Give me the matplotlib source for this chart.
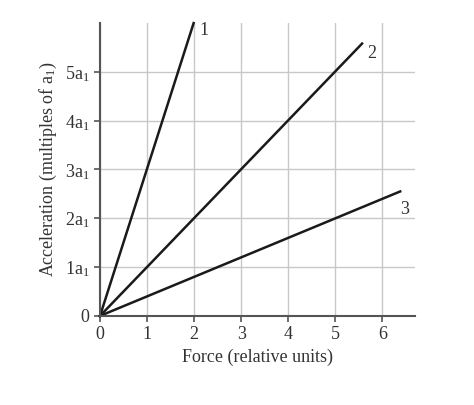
import matplotlib
matplotlib.use("Agg")
import matplotlib.pyplot as plt

plt.rcParams['font.family'] = ['Liberation Serif', 'DejaVu Serif']
plt.rcParams['mathtext.fontset'] = 'custom'
plt.rcParams['mathtext.rm'] = 'Liberation Serif'
plt.rcParams['mathtext.it'] = 'Liberation Serif'

line_names = ["1", "2", "3"]
end_force = [1.99, 5.57, 6.38]
end_accel = [6.0, 5.58, 2.55]
x_ticks = [0, 1, 2, 3, 4, 5, 6]
y_ticks = [0, 1, 2, 3, 4, 5]
y_labels = ["0", "1a$_1$", "2a$_1$", "3a$_1$", "4a$_1$", "5a$_1$"]
label_offsets = [(0.12, -0.15), (0.12, -0.2), (0.0, -0.38)]

fig = plt.figure(figsize=(4.74, 4.05), dpi=100)
ax = fig.add_axes([0.211, 0.220, 0.665, 0.723])
ax.set_xlim(0, 6.7)
ax.set_ylim(0, 6.0)
ax.set_xticks(x_ticks)
ax.set_yticks(y_ticks)
ax.set_yticklabels(y_labels)
ax.grid(True, color='#c8c8c8', linewidth=1)
ax.set_axisbelow(True)
for s in ['top', 'right']:
    ax.spines[s].set_visible(False)
for s in ['left', 'bottom']:
    ax.spines[s].set_color('#555555')
    ax.spines[s].set_linewidth(1.5)
ax.tick_params(direction='out', length=4, width=1.2, color='#555555', labelsize=13, labelcolor='#333333')
ax.tick_params(axis='y', labelsize=13)
for n, fx, ay, (dx, dy) in zip(line_names, end_force, end_accel, label_offsets):
    ax.plot([0, fx], [0, ay], color='#1a1a1a', linewidth=1.8, clip_on=False)
    ax.text(fx + dx, ay + dy, n, fontsize=13, color='#333333', va='center', ha='left')
ax.set_xlabel("Force (relative units)", fontsize=13, color='#333333')
ax.set_ylabel("Acceleration (multiples of a$_1$)", fontsize=13, color='#333333')
fig.savefig("out.png", dpi=100)
